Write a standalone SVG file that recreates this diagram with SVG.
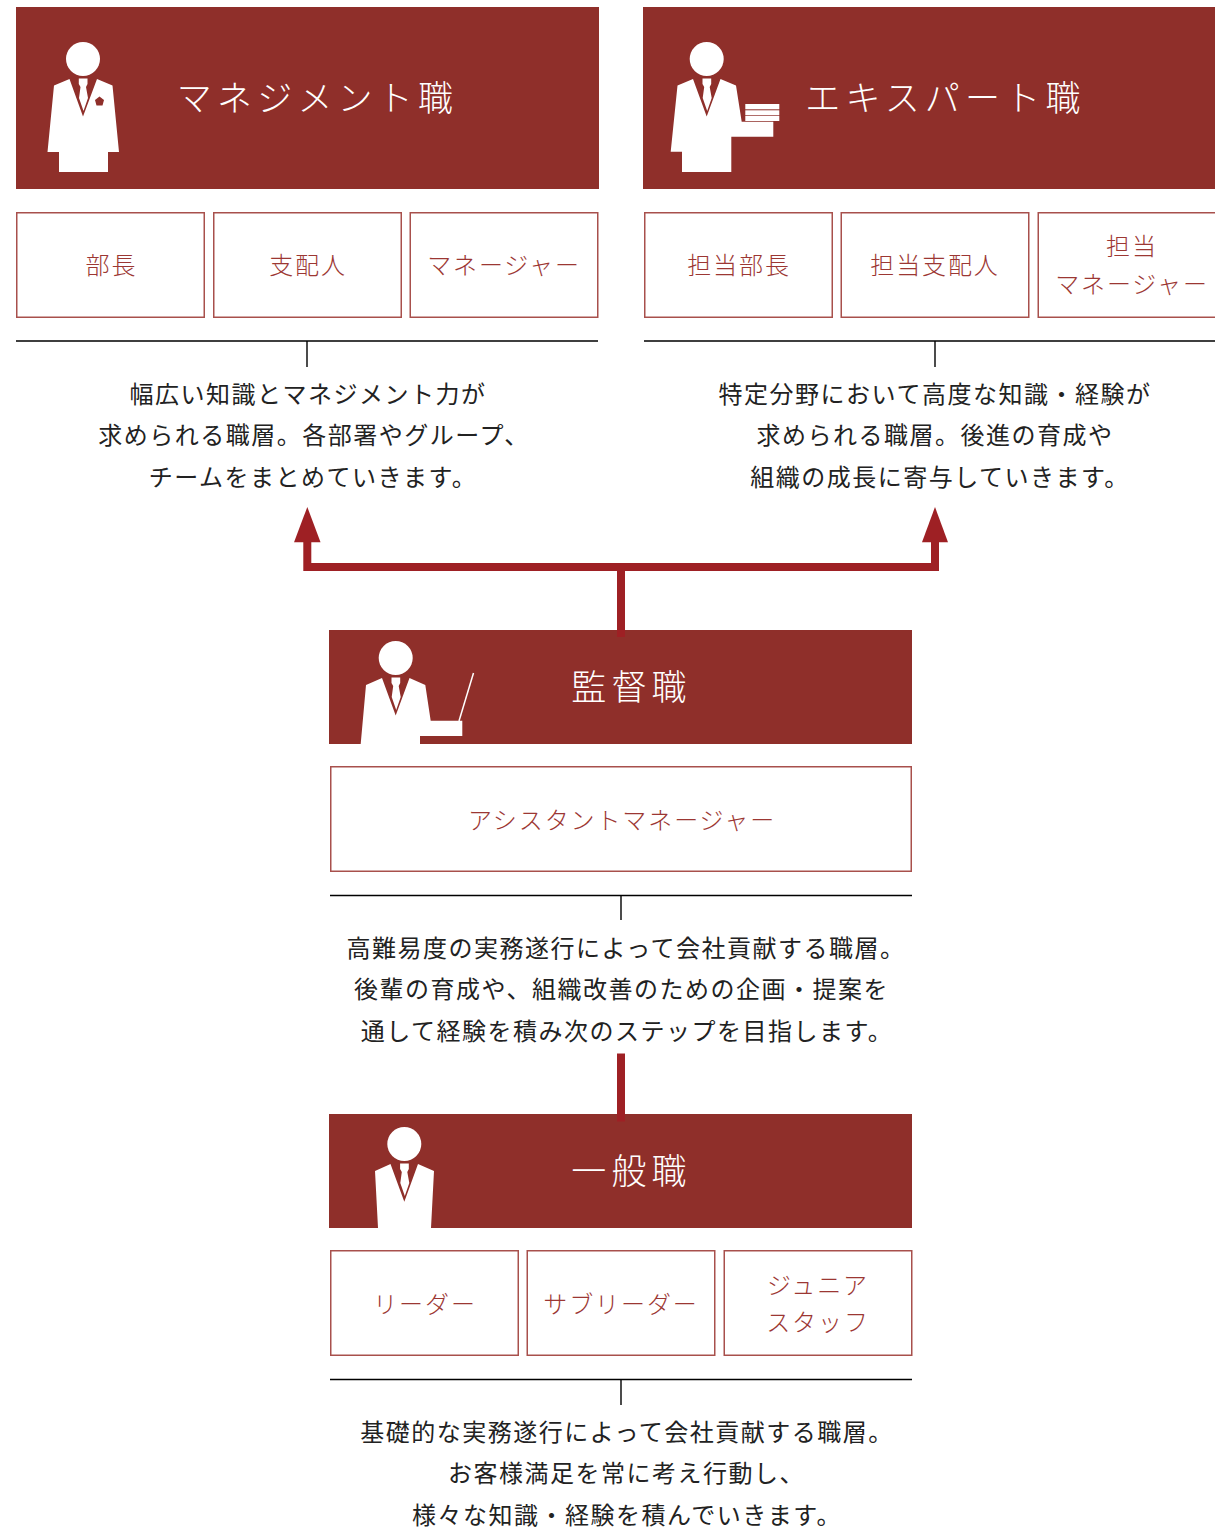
<svg xmlns="http://www.w3.org/2000/svg" width="1215" height="1529" viewBox="0 0 1215 1529">
<style>
text{font-family:"Noto Sans CJK JP","Noto Sans",sans-serif;text-anchor:middle}
.hd{fill:#8f2f2a}
.bx{fill:#fff;stroke:#a8504c;stroke-width:1.5}
.ti{fill:#fff;font-size:35px;letter-spacing:5.2px;font-weight:300}
.lb{fill:#9c3733;font-size:24px;letter-spacing:1.9px;font-weight:300}
.tx{fill:#222;font-size:24px;letter-spacing:1.5px;font-weight:400}
.w{fill:#fff}
.rl{stroke:#000;stroke-width:1.4;fill:none}
.cn{fill:none;stroke:#9e2024;stroke-width:8}
</style>
<defs>
<g id="upper">
<circle cx="0" cy="0" r="17" class="w"/>
<polygon class="w" points="-4.2,19.5 4.5,19.5 4.5,25 3,28 5,39 0.5,52 -4,39 -2.5,28 -4.2,25"/>
</g>
</defs>
<g id="node-management">
<rect class="hd" x="16" y="7" width="583" height="182"/>
<use href="#upper" x="83" y="59"/>
<polygon class="w" points="69.5,79 54,85.5 47.5,152 59,152 59,172 108,172 108,152 119,152 112.5,85.5 97,79 83,116.500"/>
<polygon class="hd" points="99.500,96.500 104,100 102.500,105.500 96.500,105.500 95,100"/>
<text class="ti" x="317.500" y="111">マネジメント職</text>
</g>
<g id="node-expert">
<rect class="hd" x="643" y="7" width="572" height="182"/>
<use href="#upper" x="706.700" y="59"/>
<polygon class="w" points="693,79 677.500,85.500 670.700,151.700 682,151.700 682,172 731.300,172 731.300,136.700 773.300,136.700 773.300,121.700 741.700,121.700 736,85.500 720.500,79 706.700,116.500"/>
<rect class="w" x="745.300" y="104" width="34" height="5.300"/>
<rect class="w" x="745.300" y="110.300" width="34" height="5"/>
<rect class="w" x="745.300" y="116" width="34" height="5"/>
<text class="ti" x="945.500" y="111">エキスパート職</text>
</g>
<g id="box-bucho"><rect class="bx" x="16.750" y="212.750" width="187.500" height="104.500"/><text class="lb" x="111.500" y="274">部長</text></g>
<g id="box-shihainin"><rect class="bx" x="213.750" y="212.750" width="187.500" height="104.500"/><text class="lb" x="308" y="274">支配人</text></g>
<g id="box-manager"><rect class="bx" x="410.250" y="212.750" width="187.500" height="104.500"/><text class="lb" x="504" y="274">マネージャー</text></g>
<g id="box-tanto-bucho"><rect class="bx" x="644.750" y="212.750" width="187.500" height="104.500"/><text class="lb" x="739" y="274">担当部長</text></g>
<g id="box-tanto-shihainin"><rect class="bx" x="841.250" y="212.750" width="187.500" height="104.500"/><text class="lb" x="935" y="274">担当支配人</text></g>
<g id="box-tanto-manager"><rect class="bx" x="1038.250" y="212.750" width="187.500" height="104.500"/><text class="lb" x="1132" y="255">担当</text><text class="lb" x="1132" y="293">マネージャー</text></g>
<g id="desc-management">
<path class="rl" d="M16 341H598M307 341V367"/>
<text class="tx" x="308" y="403">幅広い知識とマネジメント力が</text>
<text class="tx" x="314" y="444">求められる職層。各部署やグループ、</text>
<text class="tx" x="313" y="486">チームをまとめていきます。</text>
</g>
<g id="desc-expert">
<path class="rl" d="M644 341H1215M935 341V367"/>
<text class="tx" x="935" y="403">特定分野において高度な知識・経験が</text>
<text class="tx" x="935" y="444">求められる職層。後進の育成や</text>
<text class="tx" x="940" y="486">組織の成長に寄与していきます。</text>
</g>
<g id="node-supervisor">
<rect class="hd" x="329" y="630" width="583" height="114"/>
<use href="#upper" x="395.700" y="658"/>
<polygon class="w" points="382,678 366,685 360.700,744 420,744 420,736 462.300,736 462.300,720.700 430.700,720.700 425.300,685 409.500,678 395.700,715.500"/>
<path d="M459 721L473.500 673" stroke="#fff" stroke-width="1.500" fill="none"/>
<text class="ti" x="631.500" y="700">監督職</text>
</g>
<g id="box-assistant"><rect class="bx" x="330.750" y="766.750" width="580.500" height="104.500"/><text class="lb" x="622" y="829">アシスタントマネージャー</text></g>
<g id="desc-supervisor">
<path class="rl" d="M330 895.500H912M621 896V920"/>
<text class="tx" x="626" y="957">高難易度の実務遂行によって会社貢献する職層。</text>
<text class="tx" x="621.500" y="998">後輩の育成や、組織改善のための企画・提案を</text>
<text class="tx" x="627" y="1040">通して経験を積み次のステップを目指します。</text>
</g>
<g id="node-general">
<rect class="hd" x="329" y="1114" width="583" height="114"/>
<use href="#upper" x="404.300" y="1144"/>
<polygon class="w" points="390.500,1164 375,1171 378,1228 431,1228 434,1171 418,1164 404.300,1201.700"/>
<text class="ti" x="631.500" y="1184">一般職</text>
</g>
<g id="box-leader"><rect class="bx" x="330.750" y="1250.750" width="187.500" height="104.500"/><text class="lb" x="425" y="1313">リーダー</text></g>
<g id="box-subleader"><rect class="bx" x="527.250" y="1250.750" width="187.500" height="104.500"/><text class="lb" x="621" y="1313">サブリーダー</text></g>
<g id="box-junior"><rect class="bx" x="724.250" y="1250.750" width="187.500" height="104.500"/><text class="lb" x="818" y="1294">ジュニア</text><text class="lb" x="818" y="1331">スタッフ</text></g>
<g id="desc-general">
<path class="rl" d="M330 1379.500H912M621 1380V1405"/>
<text class="tx" x="627" y="1441">基礎的な実務遂行によって会社貢献する職層。</text>
<text class="tx" x="626.500" y="1482">お客様満足を常に考え行動し、</text>
<text class="tx" x="627" y="1524">様々な知識・経験を積んでいきます。</text>
</g>
<g id="connectors">
<path class="cn" d="M307.300 540V567H935V540"/>
<polygon fill="#9e2024" points="307.300,507 320.500,542.300 294,542.300"/>
<polygon fill="#9e2024" points="935,507 948,542.300 922,542.300"/>
<path class="cn" d="M621 570V637" stroke-width="7"/>
<path class="cn" d="M621 1053.500V1121.500"/>
</g>
</svg>
